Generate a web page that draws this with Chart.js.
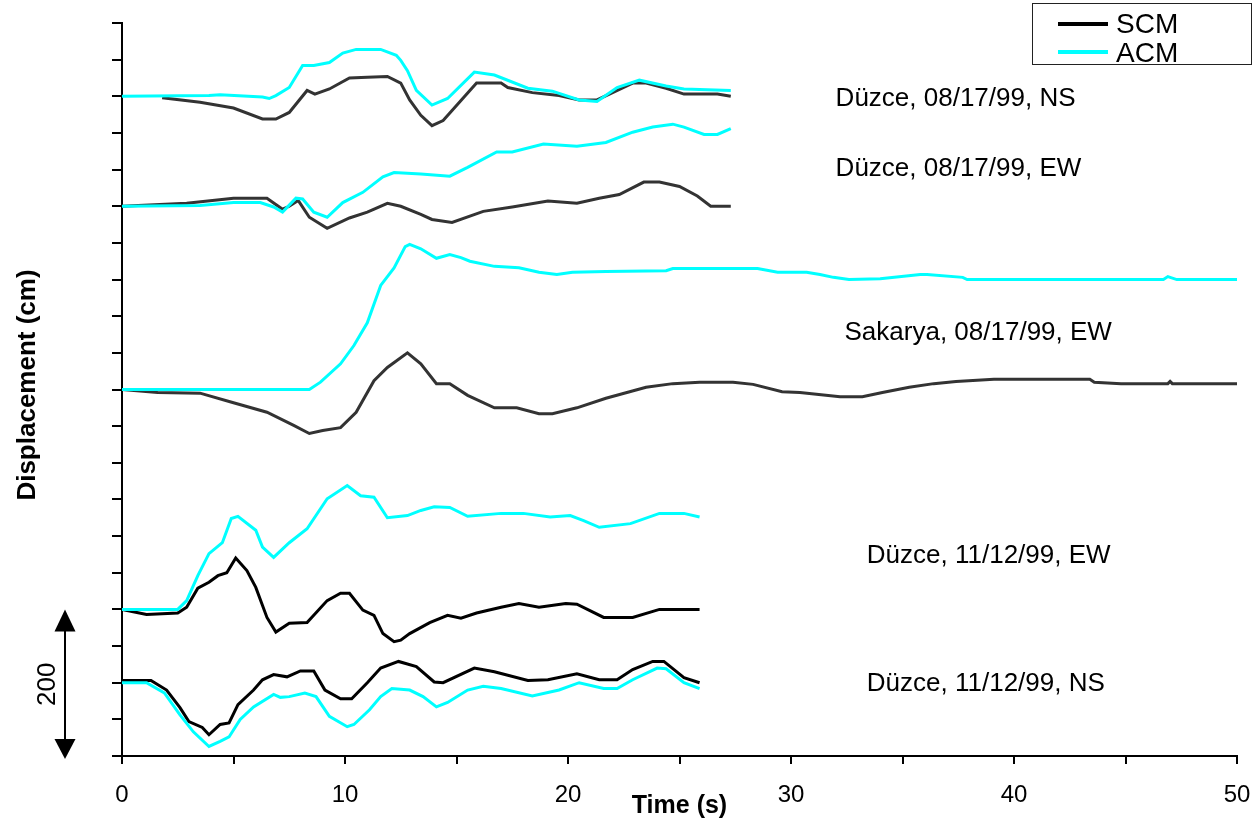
<!DOCTYPE html>
<html>
<head>
<meta charset="utf-8">
<title>Displacement</title>
<script src="https://cdn.jsdelivr.net/npm/chart.js@4.4.1/dist/chart.umd.min.js"></script>
<style>
    html, body { margin: 0; padding: 0; background: #fff; }
    #wrap { width: 1260px; height: 823px; }
</style>
</head>
<body>
<div id="wrap"><canvas id="dispChart" width="1260" height="823"></canvas></div>
<script>
// record names and the level (cm) each record is shifted to
const recordNames = ['Düzce, 08/17/99, NS', 'Düzce, 08/17/99, EW', 'Sakarya, 08/17/99, EW', 'Düzce, 11/12/99, EW', 'Düzce, 11/12/99, NS'];
const recordOffsets = [900, 750, 500, 200, 100];
const xTicks = [0, 10, 20, 30, 40, 50];

// Düzce 08/17/99 NS
const nsAugScmT = [1.8, 3.5, 5, 6.3, 6.9, 7.5, 8.3, 8.65, 9.3, 10.2, 11, 11.9, 12.5, 12.9, 13.4, 13.9, 14.4, 15.9, 17, 17.3, 18.4, 19.6, 20.5, 21.3, 22, 22.9, 23.5, 24.4, 25.2, 26.7, 27.3];
const nsAugScmD = [-2, -8, -16, -31, -31, -22, 8, 3, 10, 25, 26, 27, 18, -5, -26, -40, -33, 18, 18, 12, 5, 1, -5, -5, 5, 18, 18, 11, 3, 3, 0];
const nsAugAcmT = [0, 3.9, 4.4, 6.3, 6.6, 6.9, 7.5, 8.1, 8.6, 9.3, 9.9, 10.5, 11.6, 12.3, 12.5, 12.8, 13.2, 13.9, 14.6, 15.8, 16.7, 18.2, 19.3, 20.5, 21.3, 22.2, 23.2, 24.4, 25.2, 27.3];
const nsAugAcmD = [0, 1, 2, -1, -3, 1, 12, 42, 42, 46, 59, 64, 64, 56, 49, 35, 8, -12, -3, 33, 29, 11, 7, -5, -7, 12, 22, 14, 10, 8];

// Düzce 08/17/99 EW
const ewAugScmT = [0, 2.9, 5, 6.5, 7.2, 7.5, 7.9, 8.4, 9.2, 10.2, 11, 11.9, 12.5, 13.4, 13.9, 14.8, 16.2, 17.5, 19.1, 20.4, 21.4, 22.3, 23.4, 24.1, 25, 25.8, 26.4, 27.3];
const ewAugScmD = [0, 4, 11, 11, -4, 0, 8, -15, -30, -16, -8, 4, 0, -11, -18, -22, -7, -1, 7, 4, 11, 16, 33, 33, 27, 14, 0, 0];
const ewAugAcmT = [0, 3.5, 5, 6.2, 6.8, 7.2, 7.8, 8.1, 8.6, 9.2, 9.9, 10.8, 11.7, 12.2, 13.4, 14.7, 15.5, 16.8, 17.5, 18.9, 20.4, 21.7, 22.9, 23.8, 24.7, 25.2, 26.1, 26.7, 27.3];
const ewAugAcmD = [0, 1, 5, 5, -1, -8, 11, 10, -8, -15, 5, 19, 40, 46, 44, 41, 53, 74, 74, 85, 82, 87, 101, 108, 112, 108, 98, 98, 106];

// Sakarya 08/17/99 EW
const sakScmT = [0, 1.6, 3.5, 5, 6.5, 7.7, 8.4, 9, 9.8, 10.5, 11.3, 11.9, 12.8, 13.4, 14.1, 14.7, 15.5, 16.7, 17.7, 18.7, 19.3, 20.4, 21.7, 23.5, 24.7, 25.9, 27.4, 28.3, 29.6, 30.4, 32.2, 33.2, 34.1, 35.3, 36.4, 37.4, 39.1, 43.4, 43.6, 44.8, 46.9, 47, 47.1, 50];
const sakScmD = [0, -4, -5, -18, -31, -49, -60, -56, -52, -31, 12, 30, 50, 35, 8, 8, -8, -25, -25, -33, -33, -25, -12, 3, 8, 10, 10, 7, -3, -4, -10, -10, -4, 3, 8, 11, 14, 14, 10, 8, 8, 11, 8, 8];
const sakAcmT = [0, 8.4, 8.9, 9.8, 10.4, 11, 11.6, 12.2, 12.7, 12.9, 13.4, 14.1, 14.7, 15.2, 15.6, 16.7, 17.8, 18.7, 19.5, 20.2, 21.7, 24.4, 24.7, 28.5, 29.4, 30.7, 31.3, 31.9, 32.6, 34, 35.8, 36.1, 37.7, 37.9, 46.7, 46.9, 47.3, 50];
const sakAcmD = [0, 0, 10, 35, 60, 91, 142, 166, 195, 198, 192, 179, 184, 180, 175, 168, 166, 160, 157, 160, 161, 162, 165, 165, 160, 160, 157, 153, 150, 151, 157, 157, 153, 150, 150, 154, 150, 150];

// Düzce 11/12/99 EW
const ewNovScmT = [0, 1.1, 2.5, 2.9, 3.4, 3.9, 4.3, 4.7, 5.1, 5.6, 6, 6.5, 6.9, 7.5, 8.3, 9.2, 9.8, 10.2, 10.8, 11.3, 11.7, 12.2, 12.5, 12.9, 13.8, 14.6, 15.2, 15.9, 17, 17.8, 18.7, 19.9, 20.4, 21.6, 22.9, 24.1, 25.9];
const ewNovScmD = [0, -7, -5, 3, 29, 37, 46, 50, 70, 53, 30, -11, -31, -19, -18, 12, 22, 22, -1, -8, -33, -44, -42, -33, -18, -8, -12, -5, 3, 8, 3, 8, 7, -11, -11, 0, 0];
const ewNovAcmT = [0, 2.5, 2.9, 3.4, 3.9, 4.5, 4.9, 5.2, 6, 6.3, 6.8, 7.5, 8.3, 9.2, 10.1, 10.7, 11.3, 11.9, 12.8, 13.4, 14, 14.7, 15.5, 17, 18, 19.2, 20.1, 20.7, 21.4, 22.8, 24.1, 25.2, 25.9];
const ewNovAcmD = [0, 0, 12, 46, 76, 91, 124, 127, 108, 85, 71, 91, 110, 151, 169, 155, 153, 125, 128, 135, 140, 139, 127, 131, 131, 126, 128, 121, 112, 117, 131, 131, 126];

// Düzce 11/12/99 NS
const nsNovScmT = [0, 1.3, 2, 2.6, 3, 3.6, 3.9, 4.4, 4.8, 5.2, 5.9, 6.3, 6.8, 7.4, 8, 8.6, 9.1, 9.8, 10.3, 11, 11.6, 12.4, 13.2, 14, 14.4, 15.8, 16.7, 18.2, 19.1, 20.4, 21.4, 22.2, 22.9, 23.8, 24.3, 25.2, 25.9];
const nsNovScmD = [3, 3, -10, -34, -53, -61, -71, -57, -55, -30, -10, 4, 11, 8, 16, 16, -10, -22, -22, 0, 20, 29, 22, 1, 0, 20, 15, 3, 4, 12, 4, 4, 18, 29, 29, 7, 0];
const nsNovAcmT = [0, 1.1, 1.9, 2.6, 3.2, 3.9, 4.4, 4.8, 5.3, 5.9, 6.8, 7.1, 7.5, 8.2, 8.7, 9.3, 10.1, 10.4, 11.1, 11.6, 12.1, 12.9, 13.5, 14.1, 14.6, 15.5, 16.2, 17, 18.4, 19.6, 20.5, 21.6, 22.2, 22.9, 24, 24.4, 25.2, 25.9];
const nsNovAcmD = [0, 0, -14, -44, -67, -87, -80, -74, -50, -33, -16, -20, -19, -14, -19, -46, -60, -57, -37, -19, -8, -10, -19, -33, -27, -10, -5, -8, -18, -10, 0, -8, -8, 4, 20, 19, 0, -8];

const scmSeries = [[nsAugScmT, nsAugScmD], [ewAugScmT, ewAugScmD], [sakScmT, sakScmD], [ewNovScmT, ewNovScmD], [nsNovScmT, nsNovScmD]];
const acmSeries = [[nsAugAcmT, nsAugAcmD], [ewAugAcmT, ewAugAcmD], [sakAcmT, sakAcmD], [ewNovAcmT, ewNovAcmD], [nsNovAcmT, nsNovAcmD]];

const FONT = '"Liberation Sans", Arial, sans-serif';
const CYAN = '#00FFFF';
const scmColors = ['#333333', '#333333', '#333333', '#000000', '#000000'];

function toPoints(t, d, offset) {
    return t.map((x, i) => ({ x: x, y: offset + d[i] }));
}

// ACM first so it is painted on top of SCM
const datasets = [];
acmSeries.forEach((s, i) => {
    datasets.push({ label: 'ACM', data: toPoints(s[0], s[1], recordOffsets[i]), borderColor: CYAN, borderWidth: 3 });
});
scmSeries.forEach((s, i) => {
    datasets.push({ label: 'SCM', data: toPoints(s[0], s[1], recordOffsets[i]), borderColor: scmColors[i], borderWidth: 3 });
});

// record names, axis title, legend box and the 200 cm scale bar
const annotations = {
    id: 'annotations',
    afterDraw(chart) {
        const ctx = chart.ctx;
        const xs = chart.scales.x, ys = chart.scales.y;
        const spots = [[32, 887], [32, 791], [32.4, 568], [33.4, 263], [33.4, 89]];
        ctx.save();
        ctx.fillStyle = '#000';
        ctx.font = '26px ' + FONT;
        ctx.textBaseline = 'alphabetic';
        ctx.textAlign = 'left';
        recordNames.forEach((name, i) => {
            ctx.fillText(name, xs.getPixelForValue(spots[i][0]), ys.getPixelForValue(spots[i][1]));
        });

        // legend
        ctx.strokeStyle = '#222';
        ctx.lineWidth = 1;
        ctx.strokeRect(1032.5, 3.5, 219, 61);
        ctx.lineWidth = 4;
        ctx.strokeStyle = '#000';
        ctx.beginPath(); ctx.moveTo(1058, 24); ctx.lineTo(1108, 24); ctx.stroke();
        ctx.strokeStyle = CYAN;
        ctx.beginPath(); ctx.moveTo(1058, 52); ctx.lineTo(1108, 52); ctx.stroke();
        ctx.font = '28px ' + FONT;
        ctx.fillText('SCM', 1116, 33);
        ctx.fillText('ACM', 1116, 62);

        // y axis title
        ctx.save();
        ctx.translate(28, 385);
        ctx.rotate(-Math.PI / 2);
        ctx.font = 'bold 26px ' + FONT;
        ctx.textAlign = 'center';
        ctx.textBaseline = 'middle';
        ctx.fillText('Displacement (cm)', 0, 0);
        ctx.restore();

        // scale bar
        const top = ys.getPixelForValue(200), bot = ys.getPixelForValue(0) + 3;
        const bx = 65;
        ctx.strokeStyle = '#000';
        ctx.lineWidth = 2;
        ctx.beginPath(); ctx.moveTo(bx, top + 10); ctx.lineTo(bx, bot - 10); ctx.stroke();
        ctx.beginPath(); ctx.moveTo(bx, top); ctx.lineTo(bx - 10.5, top + 22); ctx.lineTo(bx + 10.5, top + 22); ctx.closePath(); ctx.fill();
        ctx.beginPath(); ctx.moveTo(bx, bot); ctx.lineTo(bx - 10.5, bot - 20); ctx.lineTo(bx + 10.5, bot - 20); ctx.closePath(); ctx.fill();
        ctx.translate(48, (top + bot) / 2);
        ctx.rotate(-Math.PI / 2);
        ctx.font = '26px ' + FONT;
        ctx.textAlign = 'center';
        ctx.textBaseline = 'middle';
        ctx.fillText('200', 0, 0);
        ctx.restore();
    }
};

new Chart(document.getElementById('dispChart'), {
    type: 'line',
    data: { datasets: datasets },
    plugins: [annotations],
    options: {
        responsive: false,
        animation: false,
        layout: { padding: { top: 23, right: 23, left: 0, bottom: 0 } },
        elements: { point: { radius: 0 }, line: { tension: 0 } },
        plugins: { legend: { display: false }, tooltip: { enabled: false } },
        scales: {
            x: {
                type: 'linear', min: 0, max: 50,
                afterFit: s => { s.height = 67; s.paddingLeft = 0; s.paddingRight = 0; },
                afterBuildTicks: s => { s.ticks = [0, 5, 10, 15, 20, 25, 30, 35, 40, 45, 50].map(v => ({ value: v })); },
                ticks: {
                    autoSkip: false, maxRotation: 0, padding: 17, color: '#000',
                    font: { family: FONT, size: 24 },
                    callback: v => xTicks.includes(v) ? String(v) : ''
                },
                grid: { drawOnChartArea: false, drawTicks: true, tickLength: 8, color: '#000', lineWidth: 2 },
                border: { color: '#000', width: 2 },
                title: { display: true, text: 'Time (s)', color: '#000', font: { family: FONT, size: 25, weight: 'bold' }, padding: { top: 0, bottom: 2 } }
            },
            y: {
                min: 0, max: 1000,
                afterFit: s => { s.width = 122; s.paddingTop = 0; s.paddingBottom = 0; },
                ticks: { stepSize: 50, callback: () => '' },
                grid: { drawOnChartArea: false, drawTicks: true, tickLength: 10, color: '#000', lineWidth: 2 },
                border: { color: '#000', width: 2 },
                title: { display: false }
            }
        }
    }
});
</script>
</body>
</html>
